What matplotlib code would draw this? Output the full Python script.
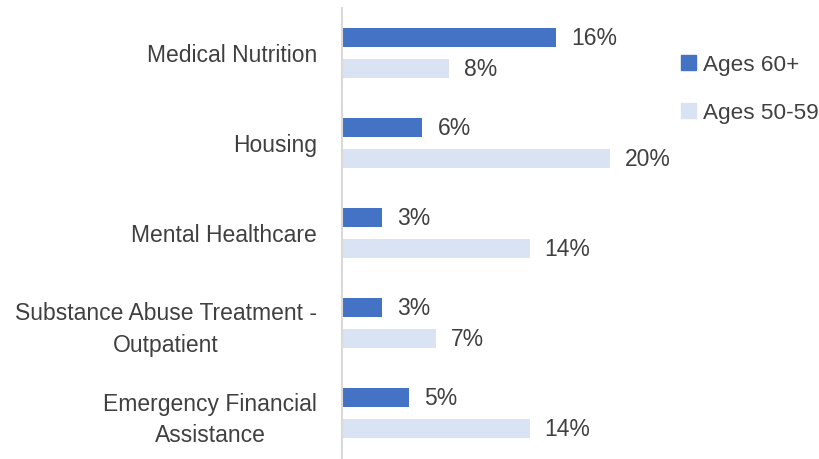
import numpy as np
import matplotlib.pyplot as plt
from matplotlib.patches import Patch

categories = ['Medical Nutrition', 'Housing', 'Mental Healthcare',
              'Substance Abuse Treatment -\nOutpatient',
              'Emergency Financial\nAssistance']
ages_60 = [16, 6, 3, 3, 5]
ages_50 = [8, 20, 14, 7, 14]

plt.rcParams['font.family'] = ['Liberation Sans', 'DejaVu Sans']
txt = '#404040'
fs = 16.5

fig = plt.figure(figsize=(8.2, 4.59), dpi=100)
ax = fig.add_axes([342/820, 1/459, 340/820, 450/459])

y = np.arange(len(categories))
h = 0.22
off = 0.172
b1 = ax.barh(y - off, ages_60, height=h, color='#4472C4')
b2 = ax.barh(y + off, ages_50, height=h, color='#DAE3F3')

# value labels at bar ends
for bars, vals in [(b1, ages_60), (b2, ages_50)]:
    for r, v in zip(bars, vals):
        ax.annotate(f'{v}%', (r.get_width(), r.get_y() + r.get_height()/2),
                    xytext=(15, -1), textcoords='offset pixels',
                    va='center', ha='left', fontsize=fs, color=txt)

ax.set_xlim(0, 340/13.4)
ax.set_ylim(4.5, -0.5)
ax.set_yticks(y)
ax.set_yticklabels(categories, fontsize=fs, color=txt, multialignment='center',
                   linespacing=1.45)
ax.tick_params(axis='y', length=0, pad=18)
ax.set_xticks([])
for s in ['top', 'right', 'bottom']:
    ax.spines[s].set_visible(False)
ax.spines['left'].set_color('#D9D9D9')
ax.spines['left'].set_linewidth(1.5)

handles = [Patch(color='#4472C4', label='Ages 60+'),
           Patch(color='#DAE3F3', label='Ages 50-59')]
fig.legend(handles=handles, loc='center left', bbox_to_anchor=(661/820, 1 - 89/459),
           frameon=False, fontsize=16.2, labelcolor=txt, handlelength=0.66,
           handleheight=0.66, handletextpad=0.3, labelspacing=1.2)

fig.savefig('out.png', dpi=100)
